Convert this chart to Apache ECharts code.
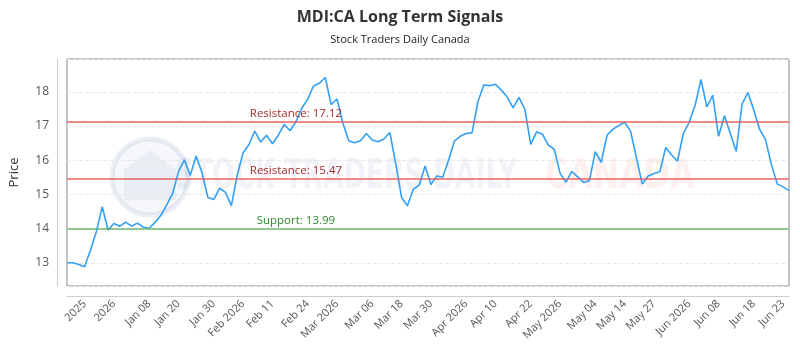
<!DOCTYPE html>
<html>
<head>
<meta charset="utf-8">
<script src="https://cdn.jsdelivr.net/npm/echarts@6/dist/echarts.min.js"></script>
<style>html,body{margin:0;padding:0;background:#fff}#c{width:800px;height:350px}</style>
</head>
<body>
<div id="c"></div>
<script>
const prices = [13.00,13.00,12.95,12.88,13.37,13.91,14.64,13.96,14.15,14.07,
14.19,14.07,14.16,14.04,14.01,14.18,14.39,14.69,15.03,15.67,
16.01,15.56,16.12,15.63,14.91,14.85,15.18,15.06,14.67,15.56,
16.22,16.46,16.85,16.53,16.73,16.48,16.73,17.05,16.86,17.12,
17.52,17.78,18.17,18.25,18.42,17.63,17.79,17.08,16.57,16.51,
16.57,16.78,16.59,16.54,16.62,16.81,15.90,14.91,14.67,15.15,
15.27,15.83,15.29,15.54,15.50,16.00,16.56,16.70,16.78,16.80,
17.71,18.20,18.18,18.22,18.05,17.85,17.53,17.84,17.49,16.46,
16.83,16.76,16.44,16.32,15.62,15.35,15.67,15.51,15.35,15.40,
16.25,15.94,16.73,16.91,17.01,17.11,16.85,16.08,15.30,15.54,
15.61,15.66,16.37,16.15,15.97,16.78,17.11,17.60,18.36,17.56,
17.90,16.70,17.30,16.78,16.26,17.64,17.98,17.47,16.90,16.60,
15.87,15.30,15.22,15.11];
const tickLabels = ['2025','2026','Jan 08','Jan 20','Jan 30','Feb 2026','Feb 11','Feb 24','Mar 2026','Mar 06','Mar 18','Mar 30','Apr 2026','Apr 10','Apr 22','May 2026','May 04','May 14','May 27','Jun 2026','Jun 08','Jun 18','Jun 23'];
const tickIndex = [3,8,14,19,25,30,35,41,46,52,57,62,68,73,79,84,90,95,100,106,111,117,122];
const resistanceHigh = 17.12;
const resistanceLow = 15.47;
const support = 13.99;
const yMin = 12.32, yMax = 18.96;

const categories = prices.map((_, i) => String(i));
const chart = echarts.init(document.getElementById('c'));
const font = 'Open Sans';
const labelSeg = [29, 49];
function levelLines(val, name, lineColor, textColor) {
  return [
    {yAxis: val, lineStyle: {color: lineColor, width: 2, type: 'solid'}, label: {show: false}},
    [
      {coord: [String(labelSeg[0]), val], lineStyle: {color: 'rgba(0,0,0,0)', width: 0}, label: {show: true, position: 'middle', formatter: name + ': ' + val.toFixed(2), color: textColor, fontSize: 11.5, fontFamily: font, distance: 2}},
      {coord: [String(labelSeg[1]), val]}
    ]
  ];
}
const wmFont = 'bold 40px "DejaVu Sans Condensed", "Liberation Sans Narrow", sans-serif';
chart.setOption({
  animation: false,
  title: {
    text: 'MDI:CA Long Term Signals',
    subtext: 'Stock Traders Daily Canada',
    left: 'center', top: 4, itemGap: 9,
    textStyle: {fontSize: 16, fontWeight: 'bold', color: '#333', fontFamily: font},
    subtextStyle: {fontSize: 11, color: '#222', fontFamily: font}
  },
  graphic: [
    {type: 'circle', shape: {cx: 150, cy: 177, r: 38}, style: {fill: 'rgba(60,90,150,0.05)', stroke: 'rgba(60,90,150,0.10)', lineWidth: 5}, z: 0, silent: true},
    {type: 'polygon', shape: {points: [[124,200],[124,170],[150,150],[176,170],[176,200]]}, style: {fill: 'rgba(60,90,150,0.06)'}, z: 0, silent: true},
    {type: 'text', x: 175, y: 158, scaleX: 0.74, style: {text: 'STOCK TRADERS DAILY', font: wmFont, fill: 'rgba(60,90,150,0.07)'}, z: 0, silent: true},
    {type: 'text', x: 545, y: 158, scaleX: 0.88, style: {text: 'CANADA', font: wmFont, fill: 'rgba(255,60,60,0.08)'}, z: 0, silent: true}
  ],
  grid: {left: 61, right: 11, top: 59, bottom: 64, show: true, borderColor: '#888', borderWidth: 1, backgroundColor: 'transparent'},
  xAxis: {
    type: 'category', data: categories, boundaryGap: false,
    offset: 10,
    axisLine: {show: true, lineStyle: {color: '#ccc'}},
    axisTick: {show: false},
    splitLine: {show: false},
    axisLabel: {
      rotate: 45, fontSize: 11, color: '#555', fontFamily: font, margin: 6,
      interval: (idx) => tickIndex.indexOf(idx) >= 0,
      formatter: (v, idx) => { const k = tickIndex.indexOf(Number(v)); return k >= 0 ? tickLabels[k] : ''; }
    }
  },
  yAxis: {
    type: 'value', min: yMin, max: yMax, offset: 10,
    name: 'Price', nameLocation: 'middle', nameGap: 36,
    nameTextStyle: {fontSize: 13, color: '#333', fontFamily: font},
    axisLine: {show: true, lineStyle: {color: '#ccc'}},
    axisTick: {show: false},
    splitLine: {show: true, lineStyle: {color: '#e8e8e8', type: 'dashed'}},
    axisLabel: {fontSize: 12, color: '#555', fontFamily: font, showMinLabel: false, showMaxLabel: false,
      formatter: (v) => Math.abs(v - Math.round(v)) < 1e-6 ? String(Math.round(v)) : ''}
  },
  series: [{
    type: 'line', data: prices, showSymbol: false, symbol: 'none',
    lineStyle: {color: '#33a0f5', width: 1.6},
    z: 3,
    markLine: {
      silent: true, symbol: 'none', animation: false,
      data: [].concat(
        levelLines(resistanceHigh, 'Resistance', 'rgba(230,90,90,0.7)', '#a52a2a'),
        levelLines(resistanceLow, 'Resistance', 'rgba(230,90,90,0.7)', '#a52a2a'),
        levelLines(support, 'Support', 'rgba(100,180,100,0.7)', '#2e8b2e')
      )
    }
  }]
});
</script>
</body>
</html>
